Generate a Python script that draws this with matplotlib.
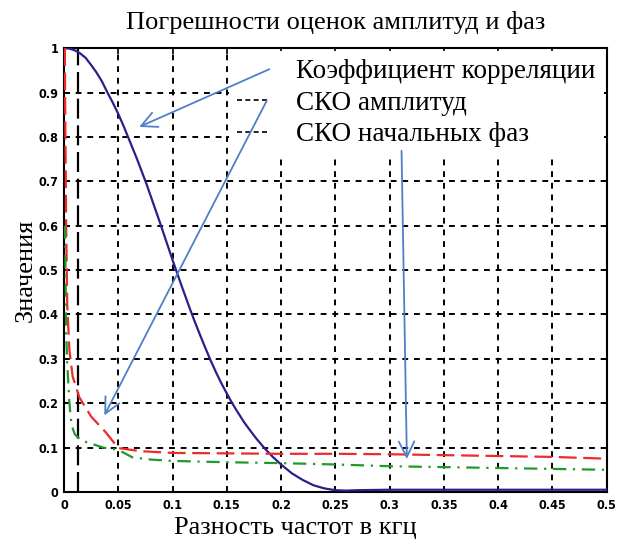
import matplotlib
matplotlib.use("Agg")
import matplotlib.pyplot as plt
from matplotlib.lines import Line2D

# correlation coefficient
corr_x = [0.0, 0.005, 0.01, 0.015, 0.02, 0.025, 0.03, 0.035, 0.04, 0.045, 0.05,
          0.055, 0.059, 0.063, 0.067, 0.072, 0.076, 0.08, 0.084, 0.088, 0.092,
          0.096, 0.1, 0.104, 0.108, 0.112, 0.116, 0.12, 0.125, 0.13, 0.135,
          0.14, 0.145, 0.15, 0.155, 0.16, 0.166, 0.172, 0.178, 0.185, 0.192,
          0.2, 0.21, 0.22, 0.23, 0.24, 0.25, 0.26, 0.27, 0.3, 0.35, 0.4, 0.45, 0.5]
corr_y = [1.0, 0.999, 0.995, 0.988, 0.978, 0.962, 0.945, 0.925, 0.9, 0.877, 0.852,
          0.824, 0.8, 0.776, 0.752, 0.72, 0.694, 0.666, 0.638, 0.61, 0.581,
          0.552, 0.523, 0.495, 0.467, 0.44, 0.413, 0.387, 0.356, 0.326, 0.297,
          0.27, 0.245, 0.222, 0.2, 0.18, 0.157, 0.137, 0.118, 0.098, 0.08,
          0.062, 0.042, 0.027, 0.015, 0.008, 0.004, 0.003, 0.004, 0.005, 0.005,
          0.005, 0.005, 0.005]

# RMS error of amplitudes
amp_x = [0.0008, 0.001, 0.002, 0.003, 0.005, 0.008, 0.012, 0.014, 0.025, 0.039,
         0.05, 0.07, 0.1, 0.15, 0.2, 0.25, 0.3, 0.35, 0.4, 0.45, 0.5]
amp_y = [1.0, 0.9, 0.6, 0.42, 0.32, 0.26, 0.23, 0.214, 0.17, 0.133,
         0.099, 0.092, 0.088, 0.087, 0.086, 0.086, 0.085, 0.083, 0.081, 0.079, 0.075]

# RMS error of initial phases
ph_x = [0.001, 0.002, 0.003, 0.005, 0.007, 0.01, 0.015, 0.021, 0.03, 0.036, 0.05,
        0.063, 0.08, 0.1, 0.15, 0.2, 0.25, 0.3, 0.35, 0.4, 0.45, 0.5]
ph_y = [0.6, 0.36, 0.29, 0.2, 0.15, 0.13, 0.118, 0.112, 0.105, 0.1, 0.095,
        0.078, 0.073, 0.07, 0.067, 0.065, 0.062, 0.058, 0.056, 0.054, 0.052, 0.05]

xticks = [0, 0.05, 0.1, 0.15, 0.2, 0.25, 0.3, 0.35, 0.4, 0.45, 0.5]
yticks = [0, 0.1, 0.2, 0.3, 0.4, 0.5, 0.6, 0.7, 0.8, 0.9, 1]
labels = ["Коэффициент корреляции", "СКО амплитуд", "СКО начальных фаз"]

serif = "Liberation Serif"
arrow_c = "#4f7fc6"

fig = plt.figure(figsize=(6.23, 5.5), dpi=100)
ax = fig.add_axes([0.1027, 0.1055, 0.871, 0.807])

ax.plot(corr_x, corr_y, color="#2b1f8c", lw=1.6, zorder=3)
ax.plot(amp_x, amp_y, color="#ee2a2a", lw=1.6, ls=(0, (8, 3)), zorder=3)
ax.plot(ph_x, ph_y, color="#1f9a2a", lw=1.6, ls=(0, (6, 3, 1, 3)), zorder=3)
ax.axvline(0.013, color="k", lw=1.6, ls=(0, (9, 3)), zorder=2)

ax.set_xlim(0, 0.5)
ax.set_ylim(0, 1)
ax.set_xticks(xticks)
ax.set_yticks(yticks)
ax.set_xticklabels([str(t) for t in xticks])
ax.set_yticklabels([str(t) for t in yticks])
for lab in ax.get_xticklabels() + ax.get_yticklabels():
    lab.set_fontsize(9)
    lab.set_fontweight("bold")
    lab.set_fontstretch("condensed")
ax.tick_params(direction="in", length=4, width=1.2, top=True, right=True, pad=5)
ax.tick_params(axis="y", pad=4)
ax.grid(True, color="k", ls=(0, (3, 3)), lw=1.4)
for s in ax.spines.values():
    s.set_linewidth(1.5)

ax.set_title("Погрешности оценок амплитуд и фаз", family=serif, fontsize=19, pad=14)
ax.set_xlabel("Разность частот в кгц", family=serif, fontsize=19, labelpad=4, x=0.427)
ax.set_ylabel("Значения", family=serif, fontsize=19, labelpad=1)

handles = [Line2D([], [], color="none"),
           Line2D([], [], color="k", ls=(0, (3, 2)), lw=1.2),
           Line2D([], [], color="k", ls=(0, (3, 2)), lw=1.2)]
leg = ax.legend(handles, labels, loc="upper right", borderaxespad=0.1,
                prop={"family": serif, "size": 19.5}, handlelength=1.2,
                handletextpad=1.0, labelspacing=0.25, borderpad=0.3,
                fancybox=False, framealpha=1, facecolor="white",
                edgecolor="none")
leg.set_zorder(4)

arrow = dict(arrowstyle="->", color=arrow_c, lw=1.3, mutation_scale=28)
ax.annotate("", xy=(0.067, 0.82), xytext=(0.1915, 0.955), arrowprops=arrow, zorder=5)
ax.annotate("", xy=(0.036, 0.167), xytext=(0.188, 0.887), arrowprops=arrow, zorder=5)
ax.annotate("", xy=(0.316, 0.068), xytext=(0.311, 0.775), arrowprops=arrow, zorder=5)

fig.savefig("out.png", dpi=100)
